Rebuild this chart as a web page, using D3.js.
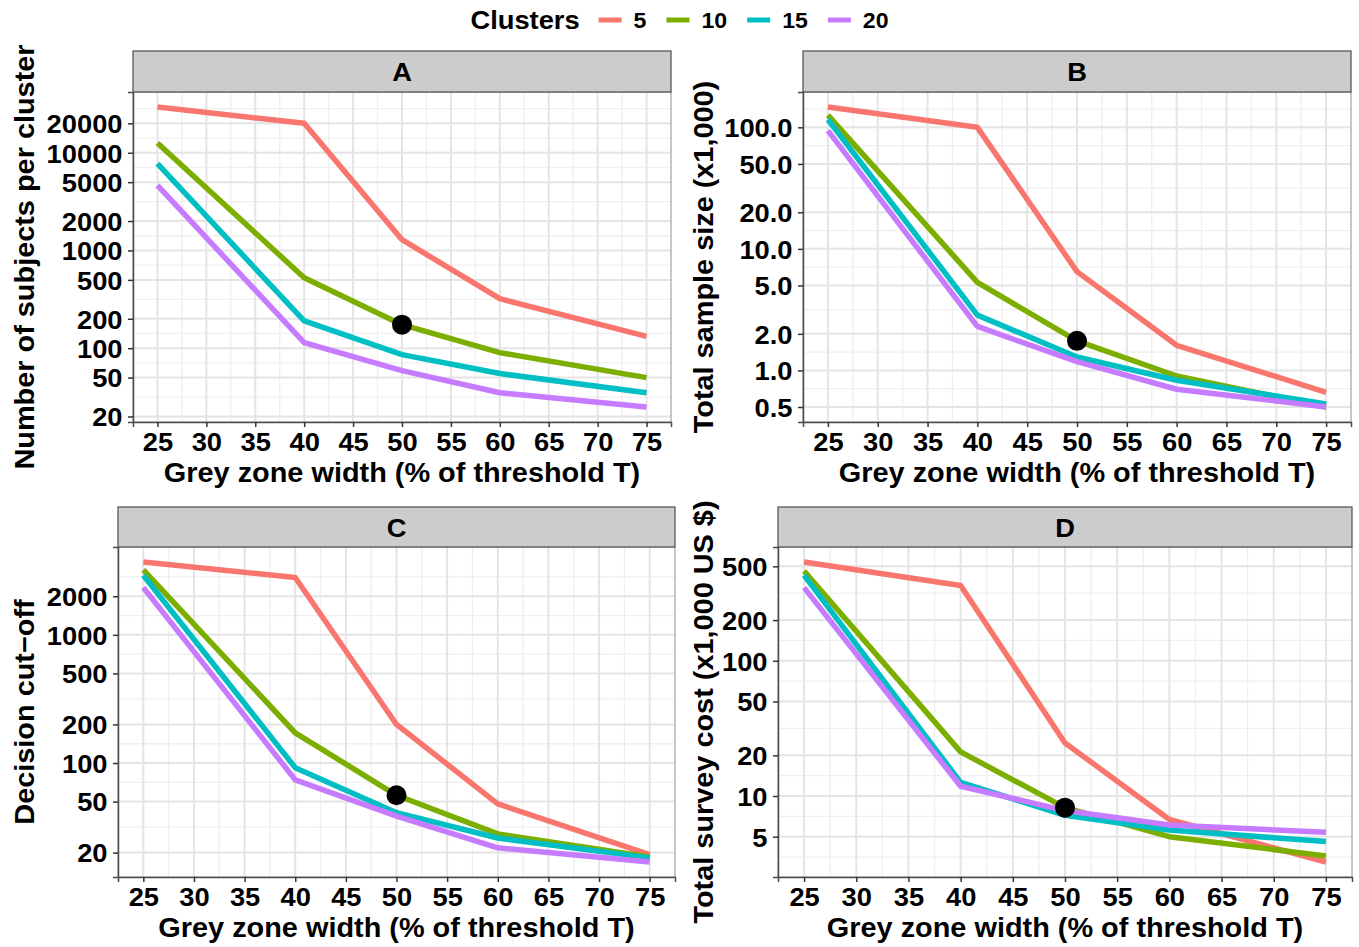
<!DOCTYPE html>
<html>
<head>
<meta charset="utf-8">
<script src="https://cdn.jsdelivr.net/npm/d3@7/dist/d3.min.js"></script>
<style>
  body { margin: 0; background: #fff; }
  text { font-family: "Liberation Sans", Arial, Helvetica, sans-serif; font-weight: bold; fill: #000; }
</style>
</head>
<body>
<div id="chart"></div>
<script>
// ---- data ----
const greyZone = [25, 40, 50, 60, 75];
const clusters = ["5", "10", "15", "20"];
const clusterColors = ["#F8766D", "#7CAE00", "#00BFC4", "#C77CFF"];
const xTicks = [25, 30, 35, 40, 45, 50, 55, 60, 65, 70, 75];

// A: number of subjects per cluster (one row per cluster count)
const subjectsPerCluster = [
  [29400, 20000, 1290, 321, 132],
  [12600, 526, 174, 90, 50],
  [7730, 190, 86, 55, 35],
  [4640, 114, 59, 35, 25]
];
// B: total sample size (x1,000)
const totalSampleSize = [
  [147, 100, 6.5, 1.61, 0.66],
  [126, 5.3, 1.75, 0.90, 0.50],
  [116, 2.85, 1.29, 0.83, 0.53],
  [94, 2.3, 1.18, 0.70, 0.50]
];
// C: decision cut-off
const decisionCutoff = [
  [3700, 2800, 200, 48, 19.3],
  [3210, 172, 56, 28, 18.5],
  [2920, 92, 41, 26, 18.2],
  [2340, 74, 38.5, 21.8, 16.9]
];
// D: total survey cost (x1,000 US $)
const surveyCost = [
  [538, 361, 24.7, 6.7, 3.25],
  [461, 21.2, 8.2, 5.0, 3.6],
  [429, 12.6, 7.2, 5.6, 4.6],
  [348, 11.8, 7.8, 6.1, 5.4]
];

const yTicksA = [20, 50, 100, 200, 500, 1000, 2000, 5000, 10000, 20000];
const yTicksB = [0.5, 1, 2, 5, 10, 20, 50, 100];
const yTicksC = [20, 50, 100, 200, 500, 1000, 2000];
const yTicksD = [5, 10, 20, 50, 100, 200, 500];

// highlighted design: 10 clusters, 50 % grey zone
const highlightCluster = 1;
const highlightX = 50;

const xTitle = "Grey zone width (% of threshold T)";

// ---- layout ----
const W = 1359, H = 947;
const SX = 1.05; // horizontal stretch of the lettering

const panels = [
  {label: "A", data: subjectsPerCluster, ticks: yTicksA, fmt: d3.format("d"),
   title: "Number of subjects per cluster",
   left: 133, right: 671, top: 92, bottom: 422, stripTop: 51, titleX: 34},
  {label: "B", data: totalSampleSize, ticks: yTicksB, fmt: d3.format(".1f"),
   title: "Total sample size (x1,000)",
   left: 803, right: 1351, top: 92, bottom: 422, stripTop: 51, titleX: 713},
  {label: "C", data: decisionCutoff, ticks: yTicksC, fmt: d3.format("d"),
   title: "Decision cut\u2212off",
   left: 118, right: 675, top: 547, bottom: 877, stripTop: 507, titleX: 34},
  {label: "D", data: surveyCost, ticks: yTicksD, fmt: d3.format("d"),
   title: "Total survey cost (x1,000 US $)",
   left: 778, right: 1352, top: 547, bottom: 877, stripTop: 507, titleX: 713}
];

const svg = d3.select("#chart").append("svg")
  .attr("width", W)
  .attr("height", H);

function stretch(sel) {
  return sel.attr("transform", function() {
    const t = d3.select(this).attr("transform") || "";
    return t + " scale(" + SX + ",1)";
  });
}

function minorBreaks(b, lo, hi) {
  // regular minor breaks in transformed space, ggplot style
  let bb = b.slice();
  if (lo < bb[0]) bb.unshift(bb[0] - (bb[1] - bb[0]));
  if (hi > bb[bb.length - 1]) bb.push(bb[bb.length - 1] + (bb[bb.length - 1] - bb[bb.length - 2]));
  const out = [];
  for (let i = 0; i < bb.length - 1; i++) out.push((bb[i] + bb[i + 1]) / 2);
  return out.filter(v => v >= lo && v <= hi);
}

panels.forEach(p => {
  const g = svg.append("g");

  // x scale with 5% expansion
  const xExp = (75 - 25) * 0.05;
  const x = d3.scaleLinear().domain([25 - xExp, 75 + xExp]).range([p.left, p.right]);

  // y log scale with 5% expansion in log space
  const all = p.data.flat();
  const lmin = Math.log10(d3.min(all)), lmax = Math.log10(d3.max(all));
  const yExp = (lmax - lmin) * 0.05;
  const y = d3.scaleLog()
    .domain([Math.pow(10, lmin - yExp), Math.pow(10, lmax + yExp)])
    .range([p.bottom, p.top]);

  // panel background
  g.append("rect")
    .attr("x", p.left).attr("y", p.top)
    .attr("width", p.right - p.left).attr("height", p.bottom - p.top)
    .attr("fill", "#fff");

  // minor grid
  const yMinor = minorBreaks(p.ticks.map(Math.log10), lmin - yExp, lmax + yExp);
  const xMinor = minorBreaks(xTicks, 25 - xExp, 75 + xExp);
  g.selectAll(".ymin").data(yMinor).join("line")
    .attr("x1", p.left).attr("x2", p.right)
    .attr("y1", d => y(Math.pow(10, d))).attr("y2", d => y(Math.pow(10, d)))
    .attr("stroke", "#EFEFEF").attr("stroke-width", 1.3);
  g.selectAll(".xmin").data(xMinor).join("line")
    .attr("y1", p.top).attr("y2", p.bottom)
    .attr("x1", d => x(d)).attr("x2", d => x(d))
    .attr("stroke", "#EFEFEF").attr("stroke-width", 1.3);

  // major grid
  g.selectAll(".ymaj").data(p.ticks).join("line")
    .attr("x1", p.left).attr("x2", p.right)
    .attr("y1", d => y(d)).attr("y2", d => y(d))
    .attr("stroke", "#E4E4E4").attr("stroke-width", 2);
  g.selectAll(".xmaj").data(xTicks).join("line")
    .attr("y1", p.top).attr("y2", p.bottom)
    .attr("x1", d => x(d)).attr("x2", d => x(d))
    .attr("stroke", "#E4E4E4").attr("stroke-width", 2);

  // series lines
  const line = d3.line()
    .x((d, i) => x(greyZone[i]))
    .y(d => y(d));
  g.selectAll(".series").data(p.data).join("path")
    .attr("d", d => line(d))
    .attr("fill", "none")
    .attr("stroke", (d, i) => clusterColors[i])
    .attr("stroke-width", 5.5)
    .attr("stroke-linejoin", "round");

  // highlighted design point
  const hi = greyZone.indexOf(highlightX);
  g.append("circle")
    .attr("cx", x(highlightX))
    .attr("cy", y(p.data[highlightCluster][hi]))
    .attr("r", 10)
    .attr("fill", "#000");

  // panel border
  g.append("rect")
    .attr("x", p.left).attr("y", p.top)
    .attr("width", p.right - p.left).attr("height", p.bottom - p.top)
    .attr("fill", "none").attr("stroke", "#9A9A9A").attr("stroke-width", 1);

  // axes
  const yAxis = g.append("g")
    .attr("transform", `translate(${p.left},0)`)
    .call(d3.axisLeft(y).tickValues(p.ticks).tickFormat(p.fmt).tickSize(5).tickPadding(5));
  const xAxis = g.append("g")
    .attr("transform", `translate(0,${p.bottom})`)
    .call(d3.axisBottom(x).tickValues(xTicks).tickFormat(d3.format("d")).tickSize(5).tickPadding(6));
  [yAxis, xAxis].forEach(a => {
    a.select(".domain").attr("stroke", "#4D4D4D").attr("stroke-width", 1.5);
    a.selectAll(".tick line").attr("stroke", "#333").attr("stroke-width", 1.5);
    a.selectAll(".tick text")
      .attr("fill", "#000")
      .style("font-size", "26px")
      .style("font-family", "'Liberation Sans', Arial, sans-serif")
      .style("font-weight", "bold");
    stretch(a.selectAll(".tick text"));
  });
  yAxis.selectAll(".tick text").attr("dy", "0.36em");

  // strip
  g.append("rect")
    .attr("x", p.left).attr("y", p.stripTop)
    .attr("width", p.right - p.left).attr("height", p.top - p.stripTop)
    .attr("fill", "#CCCCCC").attr("stroke", "#4D4D4D").attr("stroke-width", 1.2);
  stretch(g.append("text")
    .attr("transform", `translate(${(p.left + p.right) / 2},${(p.stripTop + p.top) / 2 + 9.5})`)
    .attr("text-anchor", "middle")
    .style("font-size", "26px")
    .text(p.label));

  // axis titles
  stretch(g.append("text")
    .attr("transform", `translate(${(p.left + p.right) / 2},${p.bottom + 60})`)
    .attr("text-anchor", "middle")
    .style("font-size", "27.5px")
    .text(xTitle));
  stretch(g.append("text")
    .attr("transform", `translate(${p.titleX},${(p.top + p.bottom) / 2}) rotate(-90)`)
    .attr("text-anchor", "middle")
    .style("font-size", "27.5px")
    .text(p.title));
});

// ---- legend ----
const legend = svg.append("g");
let cx = 0;
const lt = legend.append("text")
  .attr("transform", `translate(${cx},28.5) scale(${SX},1)`)
  .style("font-size", "26px")
  .text("Clusters");
cx += lt.node().getComputedTextLength() * SX + 19;
clusters.forEach((c, i) => {
  legend.append("line")
    .attr("x1", cx).attr("x2", cx + 23)
    .attr("y1", 20).attr("y2", 20)
    .attr("stroke", clusterColors[i]).attr("stroke-width", 5);
  cx += 23 + 12;
  const t = legend.append("text")
    .attr("transform", `translate(${cx},28) scale(${SX},1)`)
    .style("font-size", "22px")
    .text(c);
  cx += t.node().getComputedTextLength() * SX + 20;
});
cx -= 20;
legend.attr("transform", `translate(${(W - cx) / 2},0)`);
</script>
</body>
</html>
